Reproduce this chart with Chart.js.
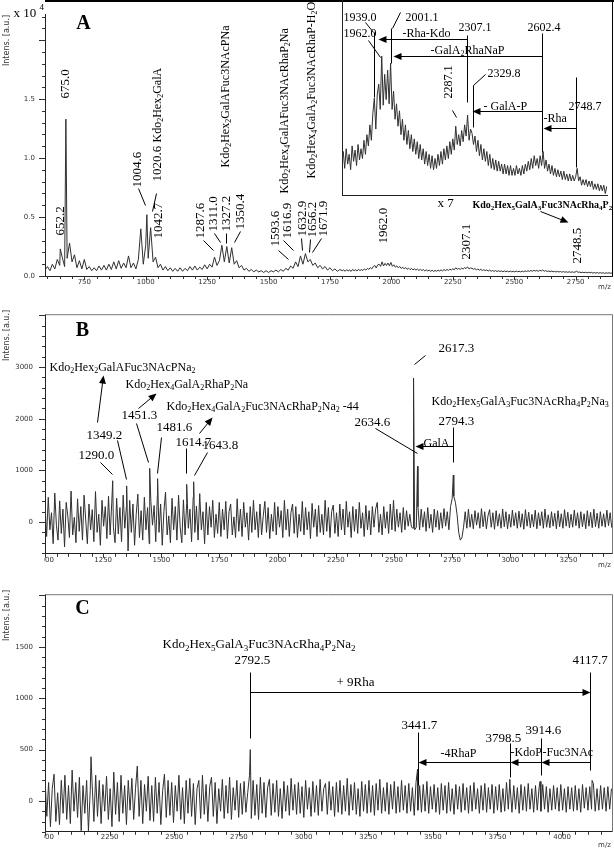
<!DOCTYPE html>
<html>
<head>
<meta charset="utf-8">
<script src="https://cdn.jsdelivr.net/npm/chart.js"></script>
<style>
  body { margin: 0; background: #fff; width: 614px; height: 848px; position: relative; overflow: hidden; }
  canvas { position: absolute; left: 0; }
</style>
</head>
<body>
<canvas id="cA" width="614" height="292" style="top:0px"></canvas>
<canvas id="cInset" width="614" height="200" style="top:0px"></canvas>
<canvas id="cB" width="614" height="272" style="top:298px"></canvas>
<canvas id="cC" width="614" height="270" style="top:578px"></canvas>
<script>
// ---- panel A : intensities in a.u., m/z 590..1790 every 10
const aStart = 590, aStep = 10;
const aInt = [
  500, 800, 450, 1000, 600, 1400, 900, 1600, 800, 1500,
  2800, 1200, 1800, 700, 1300, 600, 1400, 550, 800, 450,
  700, 450, 850, 500, 900, 500, 1000, 550, 1200, 600,
  1300, 650, 1100, 700, 1700, 700, 1100, 600, 1400, 4000,
  1000, 2600, 1500, 4100, 1200, 1600, 700, 1000, 500, 800,
  450, 700, 400, 650, 400, 700, 400, 650, 450, 800,
  500, 850, 500, 750, 550, 950, 600, 1000, 750, 1600,
  900, 1300, 2600, 1200, 2500, 1100, 2400, 1000, 1300, 700,
  900, 500, 650, 400, 550, 350, 500, 350, 450, 300,
  450, 300, 450, 350, 500, 350, 550, 400, 650, 500,
  850, 650, 1200, 800, 1700, 1000, 1900, 1200, 1400, 900,
  1100, 700, 900, 600, 800, 500, 700, 450, 600, 400,
  550
];
// m/z 1800..2898 every 6 (this part is also drawn magnified in the inset)
const aTailStart = 1800, aTailStep = 6;
const aTailInt = [
  450, 520, 400, 540, 430, 500, 390, 560, 450, 530, 420, 570, 460, 540,
  470, 600, 500, 640, 560, 710, 600, 790, 900, 680, 930, 1000, 820,
  1200, 850, 1070, 890, 1100, 860, 1150, 820, 950, 750, 860, 700, 810,
  640, 750, 600, 710, 570, 670, 540, 640, 520, 610, 500, 590, 470,
  570, 460, 540, 430, 520, 420, 500, 400, 490, 390, 470, 400, 500,
  420, 520, 430, 540, 460, 560, 470, 590, 500, 610, 530, 700, 570,
  640, 560, 670, 590, 710, 630, 780, 600, 680, 650, 570, 630, 520,
  600, 490, 570, 460, 540, 450, 520, 420, 500, 400, 470, 390, 460,
  380, 450, 380, 430, 360, 430, 360, 420, 350, 420, 350, 400, 350,
  420, 360, 400, 350, 420, 360, 430, 380, 450, 390, 470, 400, 490,
  420, 470, 400, 490, 420, 520, 400, 460, 380, 430, 360, 420, 350,
  400, 340, 390, 340, 380, 320, 380, 320, 360, 310, 360, 310, 350,
  310, 340, 400, 310, 340, 280, 320, 280, 320, 270, 310, 270, 310,
  250, 290, 250, 290, 240, 280, 240, 280, 220, 270, 240, 270, 240, 250
];
const aPeakMz = [652.2, 675.0, 1004.6];
const aPeakInt = [2300, 13300, 5200];

// ---- panel B : m/z 1000..3436 every 7
const bStart = 1000, bStep = 7;
const bInt = [
  320, -280, 480, -150, 180, -420, 560, -60, -350, 410,
  -220, 250, -480, 380, 120, -300, 600, -250, 90, -400,
  450, -180, 300, -350, 520, 40, -420, 350, -150, 240,
  -380, 590, -200, 150, -450, 420, -80, 300, -320, 500,
  -250, 380, -100, -400, 460, -230, 280, -380, 520, -120,
  300, -560, 420, -200, 350, -450, 150, 540, -300, 220,
  -350, 480, -150, 280, -420, 400, -60, 320, -380, 510,
  -200, 350, -450, 200, 580, -250, 120, -400, 460, -150,
  300, -350, 520, -100, -400, 430, -250, 360, -120, 250,
  -380, 480, -200, 310, -350, 550, -150, 200, -420, 380,
  -250, 300, -100, 420, -300, 150, -220, 380, -280, 250,
  -150, 400, -320, 200, 350, -250, 100, -300, 450, -180,
  250, -280, 380, -100, 180, -350, 300, -200, 420, -150,
  200, -300, 350, -250, 120, 400, -200, 280, -320, 150,
  -180, 380, -250, 300, -100, 220, -300, 420, -150, 250,
  -280, 180, 350, -220, 300, -300, 150, -180, 400, -250,
  280, -150, 200, -320, 360, -100, 250, -280, 320, -200,
  150, -250, 420, -180, 280, -300, 200, 330, -220, 180,
  -280, 350, -150, 250, -250, 400, -100, 200, -300, 300,
  -180, 250, -220, 380, -120, 180, -280, 320, -150, 220,
  -250, 300, -100, 250, 380, -200, 150, -250, 300, -120,
  200, -220, 350, -150, 420, -180, 250, -100, 180, -200,
  280, -150, 220, -80, 150, -100, -120, -150, -100, 300,
  -150, 250, -100, 200, -180, 280, -120, 150, -200, 250,
  -100, 220, -150, 180, -120, 260, -80, 200, -150, 300,
  450, 500, 380, 150, -200, -350, -300, -100, 200, -120,
  250, -100, 150, -130, 220, -60, 180, -120, 260, -90,
  200, -130, 120, 240, -100, 180, -140, 220, -80, 160,
  -120, 250, -90, 200, -130, 150, -100, 230, -70, 180,
  -120, 210, -100, 160, -140, 240, -80, 190, -110, 150,
  -90, 230, -130, 180, -70, 200, -120, 250, -100, 140,
  -110, 200, -80, 170, -130, 220, -90, 160, -120, 240,
  -80, 190, -110, 150, -100, 230, -70, 180, -120, 200,
  -90, 160, -130, 220, -80, 190, -110, 250, -90, 170,
  -120, 200, -80, 160, -100, 230, -70, 180, -110
];
const bPeakMz = [1291, 1351, 1450, 1484, 1609, 1639, 2584, 2601, 2755];
const bPeakInt = [800, 700, 1040, 840, 730, 780, 2790, 1080, 910];

// ---- panel C : m/z 2000..4191 every 7
const cStart = 2000, cStep = 7;
const cInt = [
  220, -150, 180, -250, 120, 260, -200, 80, -230, 200,
  -120, 250, -180, 150, -220, 300, -100, 180, -160, 230,
  -290, 150, -120, 200, -290, 100, 180, -200, 250, -150,
  200, -220, 160, -100, 240, -180, 120, -250, 280, -130,
  180, -200, 250, -120, 150, -230, 200, -90, 220, -180,
  120, 340, -150, 200, -220, 160, -100, 240, -190, 150,
  -200, 230, -120, 180, -230, 100, 260, -160, 200, -140,
  180, -210, 150, -100, 250, -180, 130, -220, 200, -120,
  220, -150, 170, -230, 120, 200, -170, 250, -130, 160,
  -200, 140, 230, -150, 180, -220, 120, -100, 210, -170,
  150, -120, 230, -180, 130, -90, 200, -160, 170, -130,
  190, -110, 80, 250, -170, 200, -140, 160, -180, 230,
  -120, 180, -160, 130, 210, -140, 170, -110, 200, -150,
  120, -170, 190, -100, 150, -140, 220, -90, 160, -130,
  180, -120, 140, -160, 200, -80, 130, -150, 190, -110,
  150, -140, 210, -100, 120, 170, -130, 190, -90, 140,
  -150, 180, -110, 200, -130, 150, -100, 220, -140, 160,
  -90, 180, -130, 120, -150, 190, -100, 160, -120, 200,
  -110, 150, -140, 170, -90, 210, -120, 130, -100, 180,
  -130, 160, -80, 190, -120, 140, -110, 200, -90, 150,
  -120, 170, -100, 130, -140, 180, -90, 150, -110, 160,
  -100, 190, -120, 140, -80, 160, -110, 130, -130, 170,
  -90, 150, -120, 180, -100, 120, -130, 160, -80, 140,
  -110, 170, -90, 130, -120, 150, -100, 180, -80, 120,
  -120, 150, -90, 170, -110, 130, -80, 160, -120, 140,
  -90, 160, -110, 120, -100, 180, -80, 140, -110, 150,
  -80, 130, -120, 160, -90, 140, -100, 170, -80, 120,
  -110, 150, -90, 130, -100, 160, -80, 140, -110, 120,
  -90, 150, -80, 130, -100, 160, -90, 120, -110, 140,
  -80, 130, -100, 150, -90, 120, -110, 160, -70, 130,
  -90, 140, -80, 170, -100, 120, -90, 150, -80, 130,
  -100, 140, -80, 120
];
const cPeakMz = [2178, 2794, 3441, 3798, 3915, 4116];
const cPeakInt = [430, 500, 310, 210, 190, 200];

// tick labels
const xTicksA = [750, 1000, 1250, 1500, 1750, 2000, 2250, 2500, 2750];
const yTicksA = [0, 0.5, 1.0, 1.5];
const xTicksB = [1000, 1250, 1500, 1750, 2000, 2250, 2500, 2750, 3000, 3250];
const yTicksB = [0, 1000, 2000, 3000];
const xTicksC = [2000, 2250, 2500, 2750, 3000, 3250, 3500, 3750, 4000];
const yTicksC = [0, 500, 1000, 1500];

function series(start, step, vals, peakMz, peakInt, scale) {
  const pts = vals.map((v, i) => ({ x: start + i * step, y: v / scale }));
  peakMz.forEach((m, i) => pts.push({ x: m, y: peakInt[i] / scale }));
  return pts.sort((p, q) => p.x - q.x);
}

const SERIF = '"Liberation Serif", "Times New Roman", serif';
const SANS = '"DejaVu Sans", sans-serif';

// text with "_x" as subscript
function chem(ctx, s, x, y, size, bold) {
  const w = bold ? 'bold ' : '';
  ctx.textAlign = 'left';
  ctx.textBaseline = 'middle';
  let cx = x, run = '';
  const flush = () => {
    if (!run) return;
    ctx.font = w + size + 'px ' + SERIF;
    ctx.fillText(run, cx, y);
    cx += ctx.measureText(run).width;
    run = '';
  };
  for (let i = 0; i < s.length; i++) {
    if (s[i] === '_') {
      flush();
      const c = s[++i];
      ctx.font = w + Math.round(size * 0.7) + 'px ' + SERIF;
      ctx.fillText(c, cx, y + size * 0.3);
      cx += ctx.measureText(c).width;
    } else {
      run += s[i];
    }
  }
  flush();
}
function chemUp(ctx, s, x, yBottom, size) {
  ctx.save();
  ctx.translate(x, yBottom);
  ctx.rotate(-Math.PI / 2);
  chem(ctx, s, 0, 0, size);
  ctx.restore();
}
function seg(ctx, l) {
  ctx.beginPath();
  ctx.moveTo(l[0], l[1]);
  ctx.lineTo(l[2], l[3]);
  ctx.stroke();
}
function arrow(ctx, l) {
  const [x1, y1, x2, y2] = l;
  const a = Math.atan2(y2 - y1, x2 - x1), L = 8, W = 3.5;
  ctx.beginPath();
  ctx.moveTo(x1, y1);
  ctx.lineTo(x2 - Math.cos(a) * L * 0.8, y2 - Math.sin(a) * L * 0.8);
  ctx.stroke();
  ctx.beginPath();
  ctx.moveTo(x2, y2);
  ctx.lineTo(x2 - L * Math.cos(a) + W * Math.sin(a), y2 - L * Math.sin(a) - W * Math.cos(a));
  ctx.lineTo(x2 - L * Math.cos(a) - W * Math.sin(a), y2 - L * Math.sin(a) + W * Math.cos(a));
  ctx.closePath();
  ctx.fill();
}
function axisTitle(ctx, cy, mzY) {
  ctx.save();
  ctx.fillStyle = '#333';
  ctx.font = '8px ' + SANS;
  ctx.textAlign = 'center';
  ctx.textBaseline = 'middle';
  ctx.translate(6, cy);
  ctx.rotate(-Math.PI / 2);
  ctx.fillText('Intens. [a.u.]', 0, 0);
  ctx.restore();
  ctx.fillStyle = '#333';
  ctx.font = '7px ' + SANS;
  ctx.textAlign = 'center';
  ctx.textBaseline = 'middle';
  ctx.fillText('m/z', 604, mzY);
}
function letter(ctx, t, x, y) {
  ctx.font = 'bold 20px ' + SERIF;
  ctx.textAlign = 'center';
  ctx.textBaseline = 'middle';
  ctx.fillText(t, x, y);
}

// ---- annotations, page coordinates
function drawA(ctx) {
  ctx.fillStyle = '#000';
  ctx.strokeStyle = '#000';
  ctx.lineWidth = 1;
  axisTitle(ctx, 40, 287);
  ctx.fillStyle = '#000';
  letter(ctx, 'A', 83, 23);
  ctx.font = '13px ' + SERIF;
  ctx.textAlign = 'left';
  ctx.textBaseline = 'middle';
  ctx.fillText('x 10', 13, 13);
  ctx.font = '9px ' + SERIF;
  ctx.fillText('4', 39, 7);

  [['652.2', 60, 235], ['675.0', 65, 98], ['1004.6', 137, 187], ['1020.6', 157, 181],
   ['1042.7', 158, 238], ['1287.6', 200, 238], ['1311.0', 213, 231], ['1327.2', 226, 231],
   ['1350.4', 240, 229], ['1593.6', 275, 246], ['1616.9', 287, 238], ['1632.9', 302, 236],
   ['1656.2', 312, 237], ['1671.9', 323, 236], ['1962.0', 383, 243], ['2307.1', 466, 259],
   ['2748.5', 577, 263]].forEach(t => chemUp(ctx, t[0], t[1], t[2], 13));
  [['Kdo_2Hex_2GalA', 157, 142], ['Kdo_2Hex_2GalAFuc3NAcPNa', 225, 167],
   ['Kdo_2Hex_4GalAFuc3NAcRhaP_2Na', 284, 193], ['Kdo_2Hex_4GalA_2Fuc3NAcRhaP-H_2O', 311, 178]]
    .forEach(t => chemUp(ctx, t[0], t[1], t[2], 12));
  [[138, 188, 145, 205], [156, 193, 152, 211], [203, 240, 213, 250], [214, 233, 220, 242],
   [226, 233, 226, 243], [240, 231, 234, 242], [278, 250, 288, 259], [283, 240, 293, 250],
   [301, 238, 302, 250], [310, 239, 309, 252], [321, 238, 312, 252]].forEach(l => seg(ctx, l));

  // inset labels
  [['1939.0', 343, 17], ['1962.0', 343, 33], ['2001.1', 405, 17], ['-Rha-Kdo', 402, 33],
   ['2307.1', 458, 27], ['2602.4', 527, 27], ['-GalA_2RhaNaP', 430, 50], ['2329.8', 487, 73],
   ['- GalA-P', 483, 106], ['2748.7', 568, 106], ['-Rha', 543, 118]]
    .forEach(t => chem(ctx, t[0], t[1], t[2], 12));
  chemUp(ctx, '2287.1', 448, 98, 12);
  [[365, 22, 373, 32], [374, 32, 374, 97], [368, 40, 380, 57], [400, 12, 392, 28], [391, 28, 391, 63],
   [467, 35, 467, 102], [542, 33, 542, 152], [485, 74, 473, 85], [473, 85, 473, 127],
   [452, 110, 456, 117], [576, 77, 576, 167]].forEach(l => seg(ctx, l));
  [[467, 39, 378, 39], [542, 56, 393, 56], [542, 111, 472, 111], [576, 128, 543, 128]]
    .forEach(l => arrow(ctx, l));
  chem(ctx, 'x 7', 437, 203, 13);
  chem(ctx, 'Kdo_2Hex_5GalA_3Fuc3NAcRha_4P_2', 472, 205, 10, true);
  arrow(ctx, [540, 211, 568, 222]);
}

function drawB(ctx) {
  axisTitle(ctx, 335, 565);
  ctx.fillStyle = '#000';
  ctx.strokeStyle = '#000';
  ctx.lineWidth = 1;
  letter(ctx, 'B', 82, 330);
  [['Kdo_2Hex_2GalAFuc3NAcPNa_2', 49, 367], ['Kdo_2Hex_4GalA_2RhaP_2Na', 125, 384],
   ['Kdo_2Hex_4GalA_2Fuc3NAcRhaP_2Na_2 -44', 166, 406], ['Kdo_2Hex_5GalA_3Fuc3NAcRha_4P_2Na_3', 431, 401]]
    .forEach(t => chem(ctx, t[0], t[1], t[2], 12));
  [['1451.3', 121, 415], ['1481.6', 156, 427], ['1349.2', 86, 435], ['1614.7', 175, 442],
   ['1643.8', 202, 445], ['1290.0', 78, 455], ['2617.3', 438, 348], ['2634.6', 354, 422],
   ['2794.3', 438, 421]].forEach(t => chem(ctx, t[0], t[1], t[2], 13));
  chem(ctx, 'GalA', 423, 443, 12);
  [[97, 422, 103, 375], [138, 408, 156, 393], [199, 433, 212, 417], [453, 446, 415, 446]]
    .forEach(l => arrow(ctx, l));
  [[136, 423, 148, 462], [161, 437, 157, 473], [117, 440, 126, 479], [186, 448, 186, 473],
   [207, 452, 194, 475], [100, 462, 112, 474], [425, 355, 414, 364], [375, 428, 417, 453],
   [453, 427, 453, 462]].forEach(l => seg(ctx, l));
}

function drawC(ctx) {
  axisTitle(ctx, 615, 845);
  ctx.fillStyle = '#000';
  ctx.strokeStyle = '#000';
  ctx.lineWidth = 1;
  letter(ctx, 'C', 82, 608);
  chem(ctx, 'Kdo_2Hex_5GalA_3Fuc3NAcRha_4P_2Na_2', 162, 644, 13);
  [['2792.5', 234, 660], ['4117.7', 572, 660], ['+ 9Rha', 336, 682], ['3441.7', 401, 725],
   ['3798.5', 485, 738], ['3914.6', 525, 730]].forEach(t => chem(ctx, t[0], t[1], t[2], 13));
  [['-4RhaP', 440, 753], ['-KdoP', 510, 752], ['-Fuc3NAc', 542, 752]]
    .forEach(t => chem(ctx, t[0], t[1], t[2], 12));
  [[250, 672, 250, 738], [590, 672, 590, 770], [418, 732, 418, 785], [510, 743, 510, 777],
   [541, 738, 541, 775]].forEach(l => seg(ctx, l));
  [[250, 692, 590, 692], [590, 762, 541, 762], [541, 762, 510, 762], [510, 762, 418, 762]]
    .forEach(l => arrow(ctx, l));
}

function deco(c) {
  return {
    id: 'deco',
    afterDraw(chart) {
      const ctx = chart.ctx, a = chart.chartArea, xs = chart.scales.x, ys = chart.scales.y;
      ctx.save();
      if (c.whiteout) {
        ctx.fillStyle = '#fff';
        ctx.fillRect(0, a.bottom + 1, a.left - 1, chart.height - a.bottom);
      }
      if (c.xMinor) {
        ctx.strokeStyle = '#333';
        ctx.lineWidth = 1;
        ctx.beginPath();
        for (let k = Math.ceil(xs.min / c.xMinor); k * c.xMinor <= xs.max; k++) {
          const v = k * c.xMinor, p = Math.round(xs.getPixelForValue(v)) + 0.5;
          const len = (v % c.xMajor === 0) ? 4 : 3;
          ctx.moveTo(p, a.bottom);
          ctx.lineTo(p, a.bottom + len);
        }
        for (let k = Math.ceil(ys.min / c.yMinor - 1e-9); k * c.yMinor <= ys.max + 1e-9; k++) {
          const p = Math.round(ys.getPixelForValue(k * c.yMinor)) + 0.5;
          const len = (k % c.yEvery === 0) ? 6 : 3;
          ctx.moveTo(a.left, p);
          ctx.lineTo(a.left - len, p);
        }
        ctx.stroke();
      }
      if (c.frame === 'A') {
        ctx.fillStyle = '#000';
        ctx.fillRect(a.left, 0, chart.width - a.left, 2);
        ctx.fillRect(a.right, 0, 1, a.bottom);
      } else if (c.frame === 'BC') {
        ctx.strokeStyle = '#777';
        ctx.lineWidth = 1;
        ctx.beginPath();
        ctx.moveTo(a.left, a.top + 0.5);
        ctx.lineTo(a.right + 0.5, a.top + 0.5);
        ctx.lineTo(a.right + 0.5, a.bottom);
        ctx.stroke();
      }
      if (c.draw) {
        ctx.translate(0.5, 0.5 - c.top);
        c.draw(ctx);
      }
      ctx.restore();
    }
  };
}

function spectrum(id, c) {
  const tickFont = { family: 'DejaVu Sans', size: 7 };
  return new Chart(document.getElementById(id), {
    type: 'line',
    data: {
      datasets: [{
        data: c.points,
        borderColor: '#303030',
        borderWidth: 1,
        pointRadius: 0,
        tension: 0,
        fill: false
      }]
    },
    options: {
      responsive: false,
      animation: false,
      events: [],
      layout: { autoPadding: false, padding: { top: c.padTop, right: c.padRight, left: 0, bottom: 0 } },
      plugins: { legend: { display: false }, tooltip: { enabled: false } },
      scales: {
        x: {
          type: 'linear', min: c.xMin, max: c.xMax,
          afterFit: s => { s.height = c.xH; },
          afterBuildTicks: s => { s.ticks = c.xTicks.map(v => ({ value: v })); },
          ticks: {
            display: c.xTicks.length > 0, autoSkip: false, maxRotation: 0, padding: c.xPad,
            color: '#333', font: tickFont, callback: v => String(v)
          },
          grid: { display: false, drawTicks: false },
          border: { display: true, color: '#222', width: 1 }
        },
        y: {
          type: 'linear', min: c.yMin, max: c.yMax,
          afterFit: s => { s.width = c.yW; },
          afterBuildTicks: s => { s.ticks = c.yTicks.map(v => ({ value: v })); },
          ticks: {
            display: c.yTicks.length > 0, autoSkip: false, padding: c.yPad,
            color: '#333', font: tickFont, callback: c.yFmt
          },
          grid: { display: false, drawTicks: false },
          border: { display: true, color: '#222', width: 1 }
        }
      }
    },
    plugins: [deco(c)]
  });
}

const aPoints = series(aStart, aStep, aInt, aPeakMz, aPeakInt, 1e4)
  .concat(series(aTailStart, aTailStep, aTailInt, [], [], 1e4))
  .sort((p, q) => p.x - q.x);

spectrum('cA', {
  points: aPoints, xMin: 590, xMax: 2898, yMin: 0, yMax: 2.22,
  xTicks: xTicksA, yTicks: yTicksA, yFmt: v => v.toFixed(1),
  xMinor: 50, xMajor: 250, yMinor: 0.1, yEvery: 5,
  padTop: 1, padRight: 2, xH: 16, yW: 45, xPad: 2, yPad: 10,
  frame: 'A', top: 0, draw: drawA
});

spectrum('cInset', {
  points: series(aTailStart, aTailStep, aTailInt, [], [], 1),
  xMin: 1801, xMax: 2875, yMin: 210, yMax: 1600,
  xTicks: [], yTicks: [], yFmt: v => String(v),
  padTop: 0, padRight: 7, xH: 5, yW: 342, xPad: 0, yPad: 0,
  top: 0
});

spectrum('cB', {
  points: series(bStart, bStep, bInt, bPeakMz, bPeakInt, 1),
  xMin: 1000, xMax: 3437, yMin: -615, yMax: 4025,
  xTicks: xTicksB, yTicks: yTicksB, yFmt: v => String(v),
  xMinor: 50, xMajor: 250, yMinor: 200, yEvery: 5,
  padTop: 7, padRight: 2, xH: 16, yW: 45, xPad: 2, yPad: 12,
  frame: 'BC', whiteout: true, top: 298, draw: drawB
});

spectrum('cC', {
  points: series(cStart, cStep, cInt, cPeakMz, cPeakInt, 1),
  xMin: 2000, xMax: 4193, yMin: -300, yMax: 2012,
  xTicks: xTicksC, yTicks: yTicksC, yFmt: v => String(v),
  xMinor: 50, xMajor: 250, yMinor: 100, yEvery: 5,
  padTop: 7, padRight: 2, xH: 15, yW: 45, xPad: 1, yPad: 12,
  frame: 'BC', whiteout: true, top: 578, draw: drawC
});
</script>
</body>
</html>
